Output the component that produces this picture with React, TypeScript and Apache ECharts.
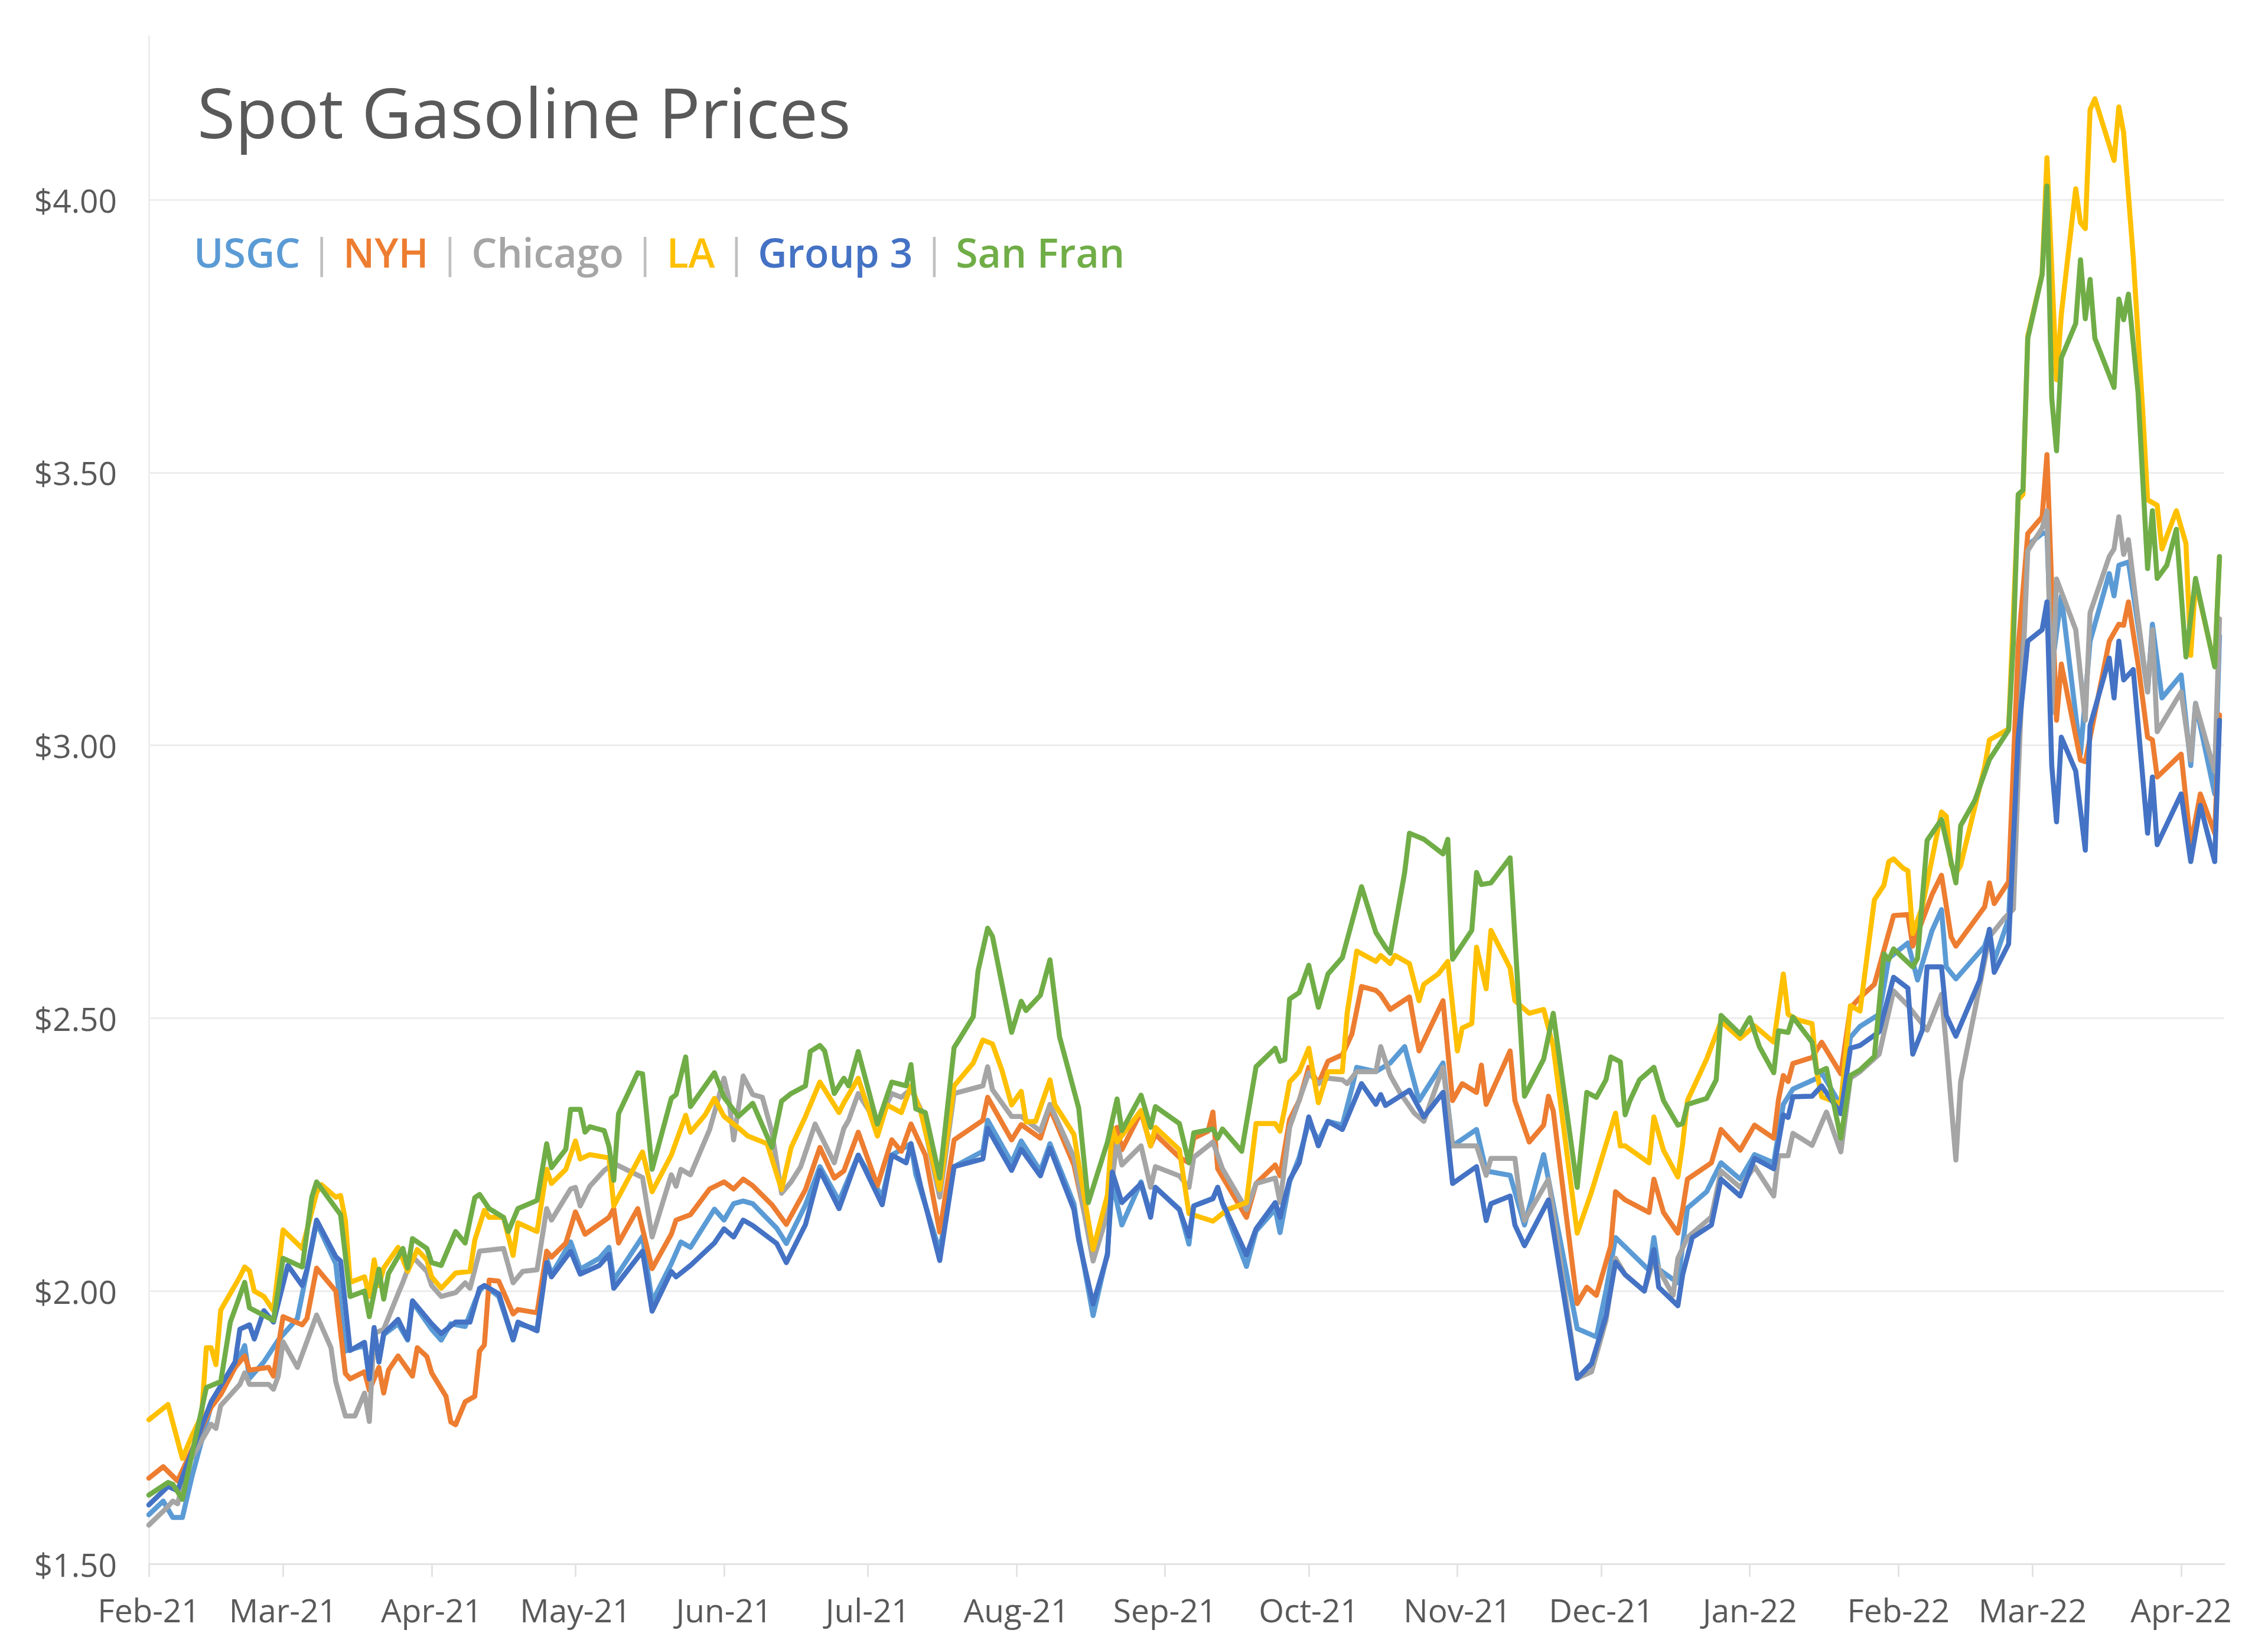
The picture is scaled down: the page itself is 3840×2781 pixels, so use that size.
import React, { useEffect, useRef } from "react";
import * as echarts from "echarts";

// Day offsets are counted from 2021-02-01 (calendar days); values in $/gal.
const START_UTC = Date.UTC(2021, 1, 1);
const N_DAYS = 434; // 2021-02-01 .. 2022-04-10
const MONTHS = ["Jan", "Feb", "Mar", "Apr", "May", "Jun", "Jul", "Aug", "Sep", "Oct", "Nov", "Dec"];
const Y_TICKS = [1.5, 2.0, 2.5, 3.0, 3.5, 4.0];

const SERIES_NAMES = ["USGC", "NYH", "Chicago", "LA", "Group 3", "San Fran"];
const SERIES_COLORS = ["#5B9BD5", "#ED7D31", "#A5A5A5", "#FFC000", "#4472C4", "#70AD47"];

const USGC: [number, number][] = [[0,1.59],[3,1.615],[5,1.585],[7,1.585],[9,1.66],[13,1.79],[18,1.86],[20,1.9],[21,1.84],[24,1.87],[27,1.91],[31,1.95],[35,2.125],[39,2.05],[41,1.89],[45,1.9],[46,1.84],[47,1.93],[48,1.87],[49,1.92],[52,1.94],[54,1.91],[55,1.98],[59,1.93],[61,1.91],[63,1.94],[66,1.935],[68,1.98],[69,2.0],[70,2.01],[73,1.99],[76,1.91],[77,1.94],[81,1.93],[83,2.06],[84,2.03],[88,2.09],[90,2.04],[94,2.06],[96,2.08],[97,2.02],[103,2.1],[105,1.98],[109,2.05],[111,2.09],[113,2.08],[118,2.15],[120,2.13],[122,2.16],[124,2.165],[126,2.16],[131,2.115],[133,2.087],[137,2.158],[140,2.228],[144,2.165],[148,2.249],[153,2.172],[155,2.249],[159,2.27],[160,2.214],[165,2.073],[168,2.228],[174,2.256],[175,2.313],[180,2.235],[182,2.275],[186,2.22],[188,2.27],[193,2.16],[194,2.1],[197,1.955],[200,2.07],[201,2.2],[203,2.121],[207,2.2],[209,2.14],[210,2.19],[215,2.15],[217,2.086],[218,2.156],[222,2.17],[223,2.19],[224,2.16],[229,2.045],[231,2.11],[235,2.15],[236,2.107],[238,2.2],[240,2.245],[242,2.31],[244,2.275],[246,2.311],[249,2.304],[251,2.372],[252,2.41],[256,2.402],[259,2.418],[262,2.448],[265,2.349],[270,2.418],[272,2.266],[277,2.296],[279,2.22],[284,2.212],[287,2.121],[291,2.25],[298,1.931],[302,1.916],[304,2.0],[306,2.098],[313,2.038],[314,2.098],[315,2.04],[319,2.015],[321,2.152],[325,2.182],[328,2.235],[332,2.205],[335,2.25],[339,2.235],[341,2.342],[343,2.37],[348,2.39],[349,2.4],[353,2.34],[355,2.465],[357,2.485],[361,2.507],[363,2.61],[367,2.638],[369,2.57],[372,2.66],[374,2.699],[375,2.594],[377,2.572],[383,2.632],[384,2.66],[385,2.605],[388,2.682],[390,3.036],[392,3.367],[395,3.388],[396,3.39],[397,3.14],[399,3.274],[403,2.984],[405,3.191],[409,3.315],[410,3.274],[411,3.33],[413,3.336],[415,3.22],[417,3.098],[418,3.222],[420,3.087],[424,3.129],[426,2.963],[427,3.077],[431,2.911],[432,3.201]];

const NYH: [number, number][] = [[0,1.657],[3,1.678],[6,1.652],[8,1.69],[13,1.787],[15,1.81],[18,1.86],[20,1.881],[21,1.855],[25,1.86],[26,1.844],[28,1.953],[32,1.938],[33,1.95],[35,2.042],[39,2.0],[41,1.849],[42,1.839],[45,1.852],[46,1.818],[48,1.86],[49,1.813],[50,1.855],[52,1.881],[55,1.844],[56,1.896],[58,1.88],[59,1.85],[62,1.807],[63,1.76],[64,1.755],[66,1.797],[68,1.807],[69,1.89],[70,1.901],[71,2.02],[73,2.018],[76,1.958],[77,1.966],[81,1.96],[83,2.073],[84,2.062],[87,2.088],[89,2.145],[91,2.104],[96,2.135],[97,2.151],[98,2.088],[102,2.151],[105,2.041],[109,2.104],[110,2.13],[113,2.14],[117,2.187],[120,2.2],[122,2.187],[124,2.205],[126,2.193],[130,2.158],[133,2.122],[137,2.186],[140,2.263],[143,2.207],[145,2.22],[148,2.291],[152,2.193],[155,2.277],[157,2.256],[159,2.306],[162,2.249],[165,2.108],[168,2.277],[174,2.313],[175,2.355],[180,2.277],[182,2.305],[186,2.28],[188,2.335],[193,2.231],[197,2.069],[200,2.169],[202,2.3],[203,2.259],[207,2.328],[209,2.266],[210,2.287],[215,2.245],[217,2.235],[218,2.28],[221,2.293],[222,2.328],[223,2.224],[229,2.135],[231,2.197],[235,2.231],[236,2.211],[238,2.314],[240,2.349],[242,2.41],[244,2.38],[246,2.421],[249,2.433],[251,2.471],[253,2.558],[256,2.551],[257,2.543],[259,2.516],[263,2.539],[265,2.44],[270,2.532],[272,2.349],[274,2.38],[277,2.364],[278,2.414],[279,2.342],[284,2.44],[285,2.349],[288,2.273],[291,2.304],[292,2.357],[293,2.33],[298,1.977],[300,2.007],[302,1.992],[305,2.083],[306,2.182],[308,2.167],[313,2.144],[314,2.205],[316,2.144],[319,2.106],[320,2.15],[321,2.205],[326,2.235],[328,2.296],[332,2.258],[335,2.304],[339,2.28],[340,2.351],[341,2.395],[342,2.384],[343,2.417],[347,2.428],[349,2.456],[353,2.398],[355,2.519],[357,2.538],[360,2.562],[364,2.688],[367,2.69],[368,2.632],[372,2.726],[374,2.762],[376,2.649],[377,2.632],[383,2.704],[384,2.748],[385,2.71],[388,2.75],[390,3.18],[392,3.388],[395,3.419],[396,3.533],[398,3.046],[399,3.149],[403,2.973],[404,2.97],[409,3.191],[411,3.222],[412,3.22],[413,3.263],[415,3.15],[417,3.015],[418,3.01],[419,2.942],[424,2.984],[426,2.818],[428,2.911],[431,2.839],[432,3.056]];

const CHICAGO: [number, number][] = [[0,1.571],[4,1.605],[5,1.615],[6,1.61],[8,1.68],[13,1.756],[14,1.748],[15,1.79],[19,1.829],[20,1.85],[21,1.829],[25,1.829],[26,1.82],[27,1.844],[28,1.907],[31,1.86],[35,1.956],[38,1.896],[39,1.834],[41,1.771],[43,1.771],[45,1.813],[46,1.761],[47,1.922],[49,1.93],[52,1.995],[53,2.016],[55,2.063],[58,2.036],[59,2.01],[61,1.99],[64,1.997],[66,2.015],[67,2.005],[69,2.073],[74,2.078],[76,2.015],[78,2.036],[81,2.039],[83,2.151],[84,2.13],[88,2.187],[89,2.19],[90,2.156],[92,2.192],[95,2.221],[97,2.234],[103,2.208],[105,2.099],[109,2.213],[110,2.192],[111,2.223],[113,2.213],[117,2.296],[120,2.39],[121,2.353],[122,2.277],[124,2.394],[126,2.36],[128,2.355],[130,2.291],[132,2.179],[134,2.2],[136,2.228],[139,2.306],[143,2.235],[145,2.298],[146,2.313],[148,2.362],[152,2.306],[155,2.362],[157,2.355],[159,2.37],[161,2.334],[165,2.172],[168,2.362],[174,2.376],[175,2.411],[176,2.369],[180,2.32],[182,2.32],[186,2.293],[188,2.342],[193,2.245],[197,2.055],[200,2.142],[202,2.273],[203,2.231],[207,2.266],[209,2.19],[210,2.228],[215,2.211],[217,2.19],[218,2.245],[222,2.273],[224,2.224],[229,2.149],[231,2.197],[235,2.207],[236,2.162],[238,2.3],[242,2.4],[244,2.38],[246,2.39],[249,2.387],[250,2.38],[252,2.402],[256,2.402],[257,2.448],[259,2.395],[261,2.364],[264,2.326],[266,2.311],[270,2.41],[272,2.266],[277,2.266],[279,2.212],[280,2.243],[285,2.243],[286,2.174],[287,2.129],[292,2.205],[298,1.84],[301,1.852],[304,1.946],[306,2.06],[308,2.03],[312,2.0],[314,2.06],[315,2.04],[318,1.992],[319,2.06],[321,2.098],[326,2.136],[328,2.22],[332,2.19],[335,2.228],[339,2.174],[340,2.248],[342,2.248],[343,2.289],[347,2.267],[350,2.328],[353,2.255],[355,2.39],[357,2.402],[361,2.434],[364,2.55],[367,2.523],[371,2.478],[374,2.544],[375,2.45],[377,2.24],[378,2.384],[384,2.649],[387,2.682],[389,2.7],[390,2.94],[392,3.357],[395,3.398],[396,3.43],[397,3.06],[398,3.305],[402,3.212],[404,3.046],[405,3.243],[409,3.346],[410,3.36],[411,3.419],[412,3.35],[413,3.377],[415,3.232],[417,3.098],[418,3.212],[419,3.025],[424,3.098],[426,2.973],[427,3.077],[431,2.952],[432,3.232]];

const LA: [number, number][] = [[0,1.764],[4,1.792],[7,1.693],[9,1.735],[11,1.771],[12,1.896],[13,1.896],[14,1.865],[15,1.965],[19,2.026],[20,2.044],[21,2.037],[22,2.0],[24,1.99],[26,1.964],[28,2.112],[32,2.078],[35,2.18],[36,2.195],[39,2.172],[40,2.175],[41,2.13],[42,2.016],[45,2.026],[46,1.99],[47,2.057],[48,2.01],[49,2.042],[52,2.08],[54,2.036],[56,2.076],[58,2.057],[59,2.026],[61,2.005],[64,2.033],[67,2.036],[68,2.093],[70,2.148],[71,2.135],[74,2.135],[76,2.065],[77,2.125],[81,2.109],[83,2.223],[84,2.197],[87,2.223],[89,2.275],[90,2.242],[92,2.25],[96,2.244],[97,2.156],[103,2.255],[105,2.182],[109,2.249],[112,2.322],[113,2.291],[116,2.322],[118,2.353],[120,2.32],[123,2.299],[125,2.284],[129,2.27],[132,2.186],[134,2.263],[137,2.32],[140,2.383],[144,2.327],[145,2.345],[148,2.39],[152,2.284],[154,2.341],[157,2.327],[159,2.376],[161,2.33],[165,2.186],[168,2.376],[172,2.418],[174,2.46],[176,2.453],[178,2.404],[180,2.341],[182,2.366],[183,2.31],[185,2.311],[188,2.387],[189,2.342],[193,2.287],[197,2.076],[200,2.176],[201,2.3],[202,2.273],[207,2.331],[209,2.266],[210,2.3],[215,2.259],[217,2.142],[222,2.128],[225,2.149],[229,2.162],[231,2.307],[235,2.307],[236,2.293],[237,2.335],[238,2.383],[240,2.402],[242,2.445],[244,2.345],[246,2.402],[249,2.402],[250,2.509],[252,2.623],[256,2.604],[257,2.615],[259,2.6],[260,2.615],[263,2.6],[265,2.532],[266,2.562],[269,2.581],[271,2.604],[273,2.44],[274,2.482],[276,2.49],[277,2.63],[279,2.554],[280,2.661],[284,2.592],[285,2.532],[288,2.509],[291,2.516],[293,2.448],[298,2.106],[301,2.182],[306,2.326],[307,2.266],[308,2.266],[313,2.235],[314,2.319],[316,2.258],[319,2.209],[320,2.27],[321,2.349],[325,2.425],[328,2.494],[332,2.463],[335,2.486],[339,2.456],[341,2.581],[342,2.507],[344,2.497],[347,2.49],[348,2.4],[349,2.356],[353,2.343],[355,2.523],[357,2.513],[360,2.717],[362,2.744],[363,2.787],[364,2.792],[366,2.775],[367,2.77],[368,2.655],[370,2.704],[374,2.878],[375,2.87],[376,2.781],[377,2.765],[378,2.78],[382,2.925],[383,2.96],[384,3.01],[388,3.03],[390,3.45],[391,3.46],[392,3.75],[395,3.864],[396,4.077],[398,3.67],[399,3.79],[402,4.02],[403,3.958],[404,3.947],[405,4.165],[406,4.185],[410,4.072],[411,4.17],[412,4.123],[414,3.895],[416,3.61],[417,3.45],[419,3.44],[420,3.36],[423,3.43],[425,3.37],[426,3.165],[427,3.3],[431,3.147],[432,3.346]];

const GROUP3: [number, number][] = [[0,1.608],[4,1.642],[6,1.634],[8,1.683],[13,1.797],[18,1.87],[19,1.93],[21,1.938],[22,1.912],[24,1.964],[26,1.943],[29,2.047],[32,2.01],[33,2.04],[35,2.13],[39,2.063],[40,2.055],[42,1.891],[45,1.906],[46,1.839],[47,1.933],[48,1.87],[49,1.922],[52,1.948],[54,1.912],[55,1.982],[59,1.94],[61,1.922],[64,1.943],[67,1.943],[69,2.005],[70,2.01],[73,1.995],[76,1.911],[77,1.943],[81,1.927],[83,2.052],[84,2.026],[88,2.073],[90,2.031],[94,2.047],[96,2.067],[97,2.005],[103,2.073],[105,1.963],[109,2.036],[110,2.026],[113,2.047],[118,2.088],[120,2.114],[122,2.099],[124,2.13],[126,2.12],[131,2.087],[133,2.052],[137,2.122],[140,2.221],[144,2.151],[148,2.249],[153,2.158],[155,2.249],[158,2.235],[159,2.27],[161,2.193],[165,2.056],[168,2.228],[174,2.242],[175,2.298],[180,2.221],[182,2.26],[186,2.211],[188,2.262],[193,2.149],[194,2.093],[197,1.976],[200,2.066],[201,2.218],[203,2.162],[207,2.197],[209,2.135],[210,2.19],[215,2.149],[217,2.1],[218,2.156],[222,2.169],[223,2.19],[224,2.162],[229,2.066],[231,2.114],[235,2.162],[236,2.135],[238,2.204],[240,2.235],[242,2.319],[244,2.266],[246,2.311],[249,2.296],[253,2.38],[256,2.342],[257,2.36],[258,2.34],[263,2.368],[266,2.319],[270,2.364],[272,2.197],[277,2.228],[279,2.129],[280,2.16],[284,2.174],[285,2.121],[287,2.083],[292,2.167],[298,1.84],[301,1.867],[304,1.954],[306,2.053],[308,2.03],[312,2.0],[314,2.076],[315,2.007],[319,1.973],[320,2.03],[322,2.098],[326,2.121],[328,2.205],[332,2.174],[335,2.243],[339,2.224],[341,2.323],[342,2.318],[343,2.356],[347,2.357],[349,2.376],[353,2.325],[355,2.445],[357,2.45],[361,2.475],[364,2.575],[367,2.555],[368,2.434],[370,2.478],[371,2.594],[374,2.594],[375,2.505],[377,2.467],[382,2.57],[384,2.663],[385,2.584],[388,2.636],[390,3.015],[392,3.191],[395,3.212],[396,3.263],[397,2.963],[398,2.86],[399,3.015],[402,2.953],[404,2.808],[405,3.036],[409,3.16],[410,3.087],[411,3.191],[412,3.12],[414,3.139],[415,3.04],[417,2.839],[418,2.942],[419,2.818],[424,2.911],[426,2.787],[428,2.89],[431,2.787],[432,3.046]];

const SAN_FRAN: [number, number][] = [[0,1.626],[4,1.649],[5,1.646],[7,1.618],[8,1.66],[12,1.823],[15,1.834],[17,1.943],[20,2.016],[21,1.969],[26,1.946],[28,2.06],[32,2.044],[34,2.172],[35,2.2],[40,2.14],[42,1.99],[45,2.0],[46,1.953],[48,2.04],[49,1.985],[50,2.032],[53,2.078],[54,2.042],[55,2.096],[58,2.078],[59,2.052],[61,2.047],[64,2.109],[66,2.088],[68,2.171],[69,2.177],[71,2.151],[74,2.135],[75,2.109],[77,2.151],[81,2.166],[83,2.27],[84,2.226],[87,2.26],[88,2.333],[90,2.333],[91,2.291],[92,2.301],[95,2.294],[96,2.265],[97,2.203],[98,2.325],[102,2.4],[103,2.398],[105,2.223],[109,2.353],[110,2.36],[112,2.429],[113,2.338],[118,2.4],[120,2.355],[123,2.32],[126,2.344],[130,2.263],[132,2.348],[134,2.362],[137,2.376],[138,2.439],[140,2.45],[141,2.44],[143,2.362],[145,2.39],[146,2.376],[148,2.439],[152,2.306],[155,2.383],[158,2.376],[159,2.415],[160,2.334],[162,2.327],[165,2.207],[168,2.446],[169,2.46],[172,2.503],[173,2.587],[175,2.665],[176,2.65],[180,2.474],[182,2.531],[183,2.514],[186,2.542],[188,2.607],[190,2.466],[194,2.335],[196,2.162],[200,2.273],[202,2.352],[203,2.294],[207,2.359],[209,2.3],[210,2.338],[215,2.307],[217,2.235],[218,2.29],[222,2.297],[223,2.28],[224,2.297],[228,2.256],[231,2.411],[235,2.445],[236,2.421],[237,2.424],[238,2.535],[240,2.547],[242,2.597],[244,2.52],[246,2.581],[249,2.611],[251,2.676],[253,2.741],[256,2.657],[258,2.63],[259,2.619],[262,2.767],[263,2.839],[266,2.828],[270,2.801],[271,2.828],[272,2.608],[276,2.661],[277,2.767],[278,2.745],[280,2.748],[284,2.794],[287,2.357],[291,2.425],[293,2.509],[298,2.19],[300,2.364],[302,2.355],[304,2.387],[305,2.429],[307,2.42],[308,2.323],[309,2.349],[311,2.387],[314,2.41],[316,2.349],[319,2.304],[320,2.307],[321,2.342],[325,2.353],[327,2.387],[328,2.505],[332,2.471],[334,2.501],[336,2.448],[339,2.4],[340,2.477],[342,2.474],[343,2.502],[347,2.456],[348,2.4],[350,2.408],[353,2.28],[355,2.395],[357,2.405],[360,2.43],[362,2.618],[363,2.607],[364,2.627],[368,2.594],[369,2.61],[371,2.826],[374,2.864],[376,2.787],[377,2.748],[378,2.853],[381,2.9],[384,2.974],[388,3.028],[389,3.19],[390,3.46],[391,3.468],[392,3.746],[395,3.863],[396,4.025],[397,3.636],[398,3.54],[399,3.71],[402,3.773],[403,3.89],[404,3.782],[405,3.854],[406,3.746],[410,3.656],[411,3.818],[412,3.78],[413,3.827],[415,3.647],[417,3.324],[418,3.43],[419,3.306],[421,3.33],[423,3.396],[425,3.162],[427,3.306],[431,3.144],[432,3.346]];

const SERIES_DATA = [USGC, NYH, CHICAGO, LA, GROUP3, SAN_FRAN];

const DAY_CATEGORIES: string[] = Array.from({ length: N_DAYS }, (_, i) =>
  new Date(START_UTC + i * 86400000).toISOString().slice(0, 10)
);

const isMonthStart = (_i: number, v: string) => v.slice(8, 10) === "01";
const monthLabel = (v: string) => MONTHS[Number(v.slice(5, 7)) - 1] + "-" + v.slice(2, 4);

const FONT = "'Open Sans', 'Noto Sans', sans-serif";
const GRID_COLOR = "#EDEDED";

export default function App() {
  const ref = useRef<HTMLDivElement>(null);

  useEffect(() => {
    if (!ref.current) return;
    const chart = echarts.init(ref.current, undefined, { renderer: "svg" });

    const rich: Record<string, any> = { sep: { fill: "#BFBFBF", fontSize: 68, fontFamily: FONT, fontWeight: 400 } };
    const keys = ["a", "b", "c", "d", "e", "f"];
    keys.forEach((k, i) => {
      rich[k] = { fill: SERIES_COLORS[i], fontSize: 68, fontFamily: FONT, fontWeight: 600 };
    });
    const legendText = SERIES_NAMES.map((n, i) => `{${keys[i]}|${n}}`).join("{sep| | }");

    chart.setOption({
      animation: false,
      backgroundColor: "#ffffff",
      grid: { left: 252, right: 74, top: 61, bottom: 134, containLabel: false },
      graphic: [
        {
          type: "text",
          x: 334,
          y: 188,
          style: {
            text: "Spot Gasoline Prices",
            fill: "#595959",
            fontSize: 117,
            fontFamily: FONT,
            fontWeight: 400,
            align: "left",
            verticalAlign: "middle",
          },
        },
        {
          type: "text",
          x: 328,
          y: 426,
          style: {
            text: legendText,
            rich,
            align: "left",
            verticalAlign: "middle",
            fontSize: 68,
            fontFamily: FONT,
          },
        },
      ],
      xAxis: {
        type: "category",
        data: DAY_CATEGORIES,
        boundaryGap: false,
        axisLine: { show: true, lineStyle: { color: "#E3E3E3", width: 3 } },
        axisTick: { show: true, interval: isMonthStart, length: 22, lineStyle: { color: "#E3E3E3", width: 3 } },
        axisLabel: {
          interval: isMonthStart,
          formatter: monthLabel,
          color: "#595959",
          fontSize: 55,
          fontFamily: FONT,
          margin: 50,
        },
        splitLine: { show: false },
      },
      yAxis: {
        type: "value",
        min: Y_TICKS[0],
        max: 4.3,
        interval: 0.5,
        axisLine: { show: true, lineStyle: { color: GRID_COLOR, width: 3 } },
        axisTick: { show: false },
        axisLabel: {
          color: "#595959",
          fontSize: 55,
          fontFamily: FONT,
          margin: 54,
          showMaxLabel: false,
          formatter: (v: number) => (Y_TICKS.some((t) => Math.abs(t - v) < 1e-6) ? "$" + v.toFixed(2) : ""),
        },
        splitLine: { show: true, showMaxLine: false, lineStyle: { color: GRID_COLOR, width: 3 } },
      },
      series: SERIES_DATA.map((d, i) => ({
        name: SERIES_NAMES[i],
        type: "line",
        data: d,
        showSymbol: false,
        symbol: "none",
        smooth: false,
        z: 2 + i,
        lineStyle: { color: SERIES_COLORS[i], width: 8.5, join: "round", cap: "round" },
        itemStyle: { color: SERIES_COLORS[i] },
      })),
    });

    return () => chart.dispose();
  }, []);

  return (
    <div
      ref={ref}
      style={{ position: "fixed", left: 0, top: 0, width: 3840, height: 2781, background: "#ffffff" }}
    />
  );
}
